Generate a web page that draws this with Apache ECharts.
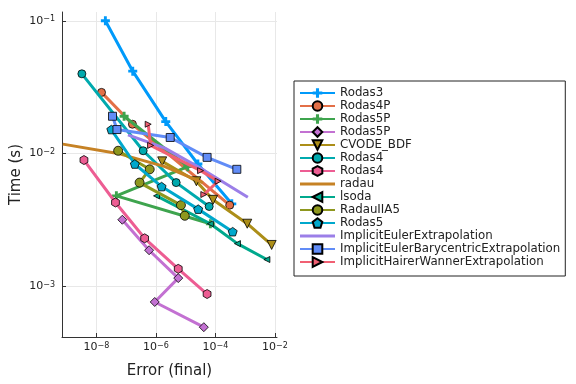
<!DOCTYPE html>
<html><head><meta charset="utf-8">
<script src="https://cdn.jsdelivr.net/npm/echarts@6/dist/echarts.min.js"></script>
<style>html,body{margin:0;padding:0;background:#fff}#c{width:576px;height:384px}</style>
</head><body><div id="c"></div>
<script>
// Axis ticks (log10 exponents)
const xTickExps = [-8, -6, -4, -2];
const yTickExps = [-3, -2, -1];

// Values are log10(error) and log10(time in s)
const logErr_Rodas3 = [-7.70, -6.78, -5.67, -4.59, -3.45];
const logTime_Rodas3 = [-1.00, -1.38, -1.76, -2.08, -2.38];
const logErr_Rodas4P = [-7.83, -6.79, -3.52];
const logTime_Rodas4P = [-1.54, -1.78, -2.39];
const logErr_Rodas5P_a = [-7.07, -4.93, -7.33, -4.17];
const logTime_Rodas5P_a = [-1.72, -2.10, -2.32, -2.53];
const logErr_Rodas5P_b = [-7.13, -6.23, -5.25, -6.04, -4.39];
const logTime_Rodas5P_b = [-2.50, -2.73, -2.94, -3.12, -3.31];
const logErr_CVODE = [-5.79, -4.64, -4.08, -2.93, -2.11];
const logTime_CVODE = [-2.06, -2.21, -2.35, -2.53, -2.69];
const logErr_Rodas4_a = [-8.49, -6.43, -5.32, -4.21];
const logTime_Rodas4_a = [-1.40, -1.98, -2.22, -2.40];
const logErr_Rodas4_b = [-8.42, -7.36, -6.38, -5.25, -4.28];
const logTime_Rodas4_b = [-2.05, -2.37, -2.64, -2.87, -3.06];
const logErr_radau = [-9.13, -7.28, -5.70, -4.42];
const logTime_radau = [-1.93, -2.00, -2.10, -2.22];
const logErr_lsoda = [-5.98, -4.17, -3.26, -2.27];
const logTime_lsoda = [-2.32, -2.53, -2.68, -2.80];
const logErr_RadauIIA5 = [-7.27, -6.21, -6.55, -5.16, -5.03];
const logTime_RadauIIA5 = [-1.98, -2.12, -2.22, -2.39, -2.47];
const logErr_Rodas5 = [-7.50, -6.71, -5.81, -4.58, -3.42];
const logTime_Rodas5 = [-1.82, -2.08, -2.25, -2.42, -2.59];
const logErr_IEE = [-6.94, -5.70, -4.36, -2.91];
const logTime_IEE = [-1.86, -1.96, -2.13, -2.33];
const logErr_IEBE = [-7.46, -7.31, -5.52, -4.28, -3.28];
const logTime_IEBE = [-1.72, -1.82, -1.88, -2.03, -2.12];
const logErr_IHWE = [-6.26, -6.18, -4.50, -3.91, -4.39];
const logTime_IHWE = [-1.78, -1.94, -2.13, -2.21, -2.31];

const seriesNames = ['Rodas3','Rodas4P','Rodas5P','Rodas5P ','CVODE_BDF','Rodas4','Rodas4 ','radau','lsoda','RadauIIA5','Rodas5','ImplicitEulerExtrapolation','ImplicitEulerBarycentricExtrapolation','ImplicitHairerWannerExtrapolation'];
const seriesErr = [logErr_Rodas3, logErr_Rodas4P, logErr_Rodas5P_a, logErr_Rodas5P_b, logErr_CVODE, logErr_Rodas4_a, logErr_Rodas4_b, logErr_radau, logErr_lsoda, logErr_RadauIIA5, logErr_Rodas5, logErr_IEE, logErr_IEBE, logErr_IHWE];
const seriesTime = [logTime_Rodas3, logTime_Rodas4P, logTime_Rodas5P_a, logTime_Rodas5P_b, logTime_CVODE, logTime_Rodas4_a, logTime_Rodas4_b, logTime_radau, logTime_lsoda, logTime_RadauIIA5, logTime_Rodas5, logTime_IEE, logTime_IEBE, logTime_IHWE];
const colors = ['#009AFA','#E36F47','#3EA44E','#C371D2','#AC8E18','#00AAAE','#ED5D93','#C68225','#00A98D','#8E971E','#00A8CC','#9B7FE8','#618CF7','#F16073'];

const PLUS = 'path://M3.4,0H6.6V3.4H10V6.6H6.6V10H3.4V6.6H0V3.4H3.4Z';
const HEX = 'path://M50,0L93.3,25L93.3,75L50,100L6.7,75L6.7,25Z';
const PENT = 'path://M50,0L97.6,34.5L79.4,90.5L20.6,90.5L2.4,34.5Z';
const LINE_ICON = 'path://M0,0H35V3H0Z';
const markers = [
  {symbol: PLUS, size: 9, rotate: 0, border: 0},
  {symbol: 'circle', size: 8, rotate: 0, border: 0.8},
  {symbol: PLUS, size: 9, rotate: 0, border: 0},
  {symbol: 'diamond', size: 9, rotate: 0, border: 0.8},
  {symbol: 'triangle', size: 9, rotate: 180, border: 0.8},
  {symbol: 'circle', size: 8, rotate: 0, border: 0.8},
  {symbol: HEX, size: 9, rotate: 0, border: 0.8},
  {symbol: 'none', size: 0, rotate: 0, border: 0},
  {symbol: 'triangle', size: 6, rotate: 90, border: 0.8},
  {symbol: 'circle', size: 9, rotate: 0, border: 0.8},
  {symbol: PENT, size: 9, rotate: 0, border: 0.8},
  {symbol: 'none', size: 0, rotate: 0, border: 0},
  {symbol: 'rect', size: 8, rotate: 0, border: 0.8},
  {symbol: 'triangle', size: 6, rotate: -90, border: 0.8}
];

const FONT = 'DejaVu Sans';
const series = seriesNames.map((name, i) => ({
  name: name,
  type: 'line',
  data: seriesErr[i].map((x, k) => [x, seriesTime[i][k]]),
  symbol: markers[i].symbol,
  symbolSize: markers[i].size,
  symbolRotate: markers[i].rotate,
  symbolKeepAspect: true,
  showSymbol: markers[i].symbol !== 'none',
  lineStyle: {width: 3, color: colors[i]},
  itemStyle: {color: colors[i], borderColor: '#000', borderWidth: markers[i].border},
  emphasis: {disabled: true},
  z: 2 + i
}));

const legendData = seriesNames.map((name, i) => markers[i].symbol === 'none'
  ? {name: name, icon: LINE_ICON, itemStyle: {color: colors[i], borderWidth: 0}}
  : {name: name});

const expLabel = v => '{b|10}{e|' + (v < 0 ? '\u2212' + Math.abs(v) : v) + '}';
const labelRich = {
  b: {fontSize: 11, fontFamily: FONT, color: '#222', verticalAlign: 'bottom', lineHeight: 11},
  e: {fontSize: 8, fontFamily: FONT, color: '#222', verticalAlign: 'top', lineHeight: 8, padding: [0, 0, 7, 0]}
};

const chart = echarts.init(document.getElementById('c'), null, {renderer: 'canvas'});
chart.setOption({
  animation: false,
  color: colors,
  textStyle: {fontFamily: FONT},
  grid: {left: 62, right: 299, top: 12, bottom: 47, containLabel: false, outerBoundsMode: 'none'},
  xAxis: {
    type: 'value', min: -9.158, max: -1.93,
    name: 'Error (final)', nameLocation: 'middle', nameGap: 27,
    nameTextStyle: {fontSize: 15, color: '#222', fontFamily: FONT},
    axisLine: {show: true, lineStyle: {color: '#333', width: 1}},
    axisTick: {show: true, inside: true, length: 4, customValues: xTickExps, lineStyle: {color: '#333'}},
    axisLabel: {customValues: xTickExps, formatter: expLabel, rich: labelRich, margin: 5},
    splitLine: {show: true, lineStyle: {color: '#e8e8e8', width: 1}}
  },
  yAxis: {
    type: 'value', min: -3.384, max: -0.934,
    name: 'Time (s)', nameLocation: 'middle', nameGap: 38,
    nameTextStyle: {fontSize: 15, color: '#222', fontFamily: FONT},
    axisLine: {show: true, lineStyle: {color: '#333', width: 1}},
    axisTick: {show: true, inside: true, length: 4, customValues: yTickExps, lineStyle: {color: '#333'}},
    axisLabel: {customValues: yTickExps, formatter: expLabel, rich: labelRich, margin: 7},
    splitLine: {show: true, lineStyle: {color: '#e8e8e8', width: 1}}
  },
  legend: {
    orient: 'vertical', left: 294, top: 81,
    padding: [6, 5, 8, 5], itemWidth: 35, itemHeight: 12, itemGap: 1,
    borderColor: '#222', borderWidth: 1, backgroundColor: '#fff',
    textStyle: {fontSize: 11.8, color: '#222', fontFamily: FONT},
    data: legendData,
    selectedMode: false
  },
  series: series
});
</script></body></html>
